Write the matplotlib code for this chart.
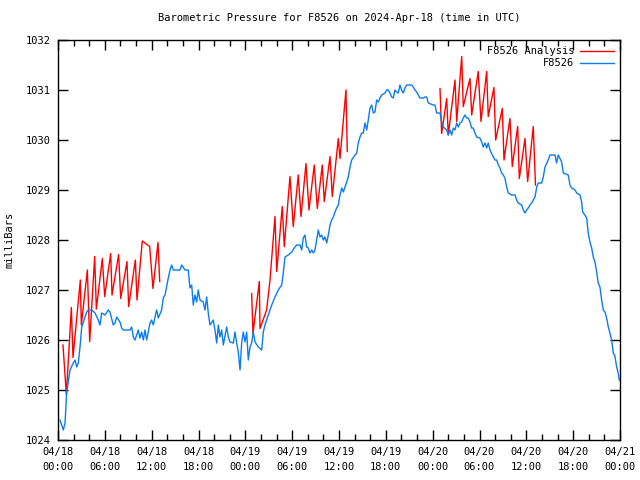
import matplotlib
matplotlib.use("Agg")
import matplotlib.pyplot as plt
from matplotlib.ticker import MultipleLocator

# hours since 2024-04-18 00:00 UTC
blue_hr = [0.26, 0.68, 0.90, 1.11, 1.54, 1.96, 2.18, 2.40, 2.60, 2.82, 3.04, 3.46, 3.68, 3.88,
           4.32, 4.74, 5.16, 5.38, 5.60, 6.02, 6.44, 6.66, 7.08, 7.30, 7.52, 7.94, 8.16, 8.37,
           9.22, 9.44, 9.65, 9.86, 10.08, 10.29, 10.50, 10.72, 10.93, 11.15, 11.36, 11.79, 12.00,
           12.21, 12.43, 12.64, 12.85, 13.28, 13.49, 13.71, 14.13, 14.35, 14.56, 14.77, 15.63,
           15.85, 16.27, 16.69, 16.91, 17.13, 17.33, 17.55, 17.77, 17.97, 18.19, 18.61, 18.83,
           19.05, 19.25, 19.47, 19.89, 20.11, 20.33, 20.54, 20.75, 20.97, 21.18, 21.61, 21.82,
           22.03, 22.46, 22.67, 22.89, 23.10, 23.32, 23.53, 23.74, 23.96, 24.17, 24.38, 24.60,
           24.81, 25.02, 25.24, 25.66, 26.10, 26.30, 26.52, 26.94, 27.38, 27.80, 28.22, 28.66,
           28.86, 29.08, 29.50, 29.94, 30.36, 30.58, 31.00, 31.22, 31.42, 31.64, 31.86, 32.07,
           32.28, 32.50, 32.71, 32.92, 33.14, 33.35, 33.56, 33.78, 33.99, 34.20, 34.42, 34.63,
           34.85, 35.06, 35.27, 35.49, 35.70, 35.91, 36.13, 36.35, 36.55, 36.77, 36.98, 37.19,
           37.41, 37.62, 38.05, 38.27, 38.47, 38.69, 38.91, 39.11, 39.33, 39.55, 39.75, 39.97,
           40.19, 40.39, 40.61, 40.83, 41.03, 41.25, 41.47, 41.89, 42.11, 42.31, 42.53, 42.75,
           42.95, 43.17, 43.39, 43.59, 43.81, 44.02, 44.24, 44.45, 44.67, 45.31, 45.52, 45.73,
           45.95, 46.16, 46.37, 46.80, 47.02, 47.23, 47.44, 48.08, 48.30, 48.51, 48.94, 49.15,
           49.36, 49.80, 50.00, 50.22, 50.44, 50.64, 50.86, 51.08, 51.28, 51.50, 51.72, 51.92,
           52.14, 52.36, 52.56, 52.78, 53.00, 53.20, 53.42, 53.64, 54.06, 54.28, 54.48, 54.70,
           54.92, 55.12, 55.34, 55.77, 55.98, 56.20, 56.41, 56.62, 56.84, 57.05, 57.26, 57.48,
           57.69, 58.12, 58.55, 58.76, 58.97, 59.40, 59.61, 59.83, 60.04, 60.25, 60.47, 60.68,
           60.89, 61.11, 61.33, 61.53, 61.97, 62.17, 62.39, 62.81, 63.03, 63.67, 63.88, 64.09,
           64.53, 64.73, 65.37, 65.59, 65.81, 66.23, 66.45, 66.87, 67.09, 67.21, 67.51, 67.73,
           67.93, 68.15, 68.37, 68.58, 68.79, 69.01, 69.21, 69.43, 69.65, 69.86, 70.07, 70.29,
           70.50, 70.71, 70.93, 71.14, 71.35, 71.57, 71.77, 71.90]
blue_p = [1024.40, 1024.20, 1024.34, 1024.94, 1025.40, 1025.54, 1025.60, 1025.46, 1025.54, 1025.86,
          1026.26, 1026.46, 1026.56, 1026.60, 1026.60, 1026.54, 1026.40, 1026.30, 1026.54, 1026.50,
          1026.60, 1026.56, 1026.30, 1026.34, 1026.46, 1026.36, 1026.24, 1026.20, 1026.20, 1026.26,
          1026.06, 1026.00, 1026.10, 1026.20, 1026.04, 1026.16, 1026.00, 1026.20, 1026.00, 1026.34,
          1026.40, 1026.30, 1026.46, 1026.60, 1026.44, 1026.60, 1026.84, 1026.90, 1027.24, 1027.40,
          1027.50, 1027.40, 1027.40, 1027.50, 1027.40, 1027.40, 1027.04, 1027.10, 1026.70, 1026.90,
          1026.76, 1027.00, 1026.80, 1026.76, 1026.60, 1026.86, 1026.54, 1026.30, 1026.40, 1026.20,
          1025.94, 1026.30, 1026.06, 1026.20, 1025.90, 1026.26, 1026.06, 1025.96, 1025.94, 1026.16,
          1025.94, 1025.76, 1025.40, 1025.94, 1026.16, 1025.96, 1026.16, 1025.60, 1025.86, 1025.94,
          1026.16, 1025.96, 1025.86, 1025.80, 1026.16, 1026.30, 1026.50, 1026.70, 1026.86, 1027.00,
          1027.10, 1027.34, 1027.66, 1027.70, 1027.76, 1027.86, 1027.90, 1027.90, 1027.80, 1028.04,
          1028.10, 1027.86, 1027.84, 1027.74, 1027.80, 1027.74, 1027.80, 1028.00, 1028.20, 1028.06,
          1028.10, 1028.00, 1028.06, 1027.94, 1028.10, 1028.30, 1028.40, 1028.46, 1028.56, 1028.64,
          1028.70, 1028.90, 1029.04, 1028.96, 1029.06, 1029.16, 1029.26, 1029.46, 1029.60, 1029.70,
          1029.74, 1029.94, 1030.06, 1030.14, 1030.14, 1030.34, 1030.20, 1030.40, 1030.64, 1030.70,
          1030.54, 1030.56, 1030.80, 1030.76, 1030.84, 1030.90, 1030.94, 1031.00, 1031.00, 1030.94,
          1030.86, 1030.84, 1031.00, 1030.96, 1030.94, 1031.10, 1031.00, 1030.94, 1031.04, 1031.10,
          1031.10, 1031.06, 1031.00, 1030.96, 1030.90, 1030.84, 1030.84, 1030.86, 1030.86, 1030.74,
          1030.70, 1030.70, 1030.54, 1030.54, 1030.36, 1030.26, 1030.20, 1030.10, 1030.20, 1030.10,
          1030.24, 1030.20, 1030.34, 1030.26, 1030.34, 1030.36, 1030.44, 1030.50, 1030.44, 1030.44,
          1030.36, 1030.24, 1030.24, 1030.14, 1030.06, 1030.04, 1029.96, 1029.86, 1029.94, 1029.84,
          1029.94, 1029.80, 1029.66, 1029.60, 1029.60, 1029.50, 1029.44, 1029.34, 1029.30, 1029.24,
          1029.06, 1028.94, 1028.90, 1028.90, 1028.80, 1028.74, 1028.70, 1028.60, 1028.54, 1028.60,
          1028.64, 1028.70, 1028.74, 1028.80, 1028.86, 1029.06, 1029.14, 1029.14, 1029.26, 1029.46,
          1029.60, 1029.70, 1029.70, 1029.54, 1029.70, 1029.56, 1029.34, 1029.30, 1029.10, 1029.04,
          1029.00, 1028.94, 1028.90, 1028.76, 1028.56, 1028.50, 1028.44, 1028.14, 1027.96, 1027.84,
          1027.66, 1027.56, 1027.36, 1027.14, 1027.06, 1026.80, 1026.60, 1026.56, 1026.44, 1026.26,
          1026.14, 1026.00, 1025.74, 1025.68, 1025.46, 1025.34, 1025.20]

# analysis runs, three separate pieces (peaks and troughs in order)
red1_hr = [0.64, 1.07, 1.71, 1.92, 2.86, 2.99, 3.76, 4.06, 4.70, 4.91, 5.68, 5.98, 6.75,
           6.92, 7.77, 8.03, 8.84, 9.05, 9.91, 10.12, 10.80, 11.74, 12.17, 12.81, 13.03]
red1_p = [1025.90, 1024.90, 1026.65, 1025.65, 1027.20, 1026.30, 1027.40, 1025.97, 1027.67,
          1026.62, 1027.63, 1026.87, 1027.73, 1026.90, 1027.71, 1026.83, 1027.57, 1026.67,
          1027.60, 1026.80, 1027.98, 1027.87, 1027.03, 1027.95, 1027.17]
red2_hr = [24.81, 24.98, 25.79, 25.88, 26.73, 27.16, 27.80, 28.02, 28.73, 28.99, 29.72, 30.14,
           30.78, 31.13, 31.77, 32.15, 32.83, 33.22, 33.86, 34.11, 34.85, 35.14, 35.91, 36.13,
           36.89, 37.06]
red2_p = [1026.93, 1026.13, 1027.17, 1026.23, 1026.60, 1027.20, 1028.47, 1027.37, 1028.67,
          1027.87, 1029.27, 1028.27, 1029.30, 1028.47, 1029.53, 1028.60, 1029.50, 1028.63,
          1029.50, 1028.77, 1029.67, 1028.87, 1030.03, 1029.63, 1031.00, 1029.77]
red3_hr = [48.94, 49.15, 49.80, 50.00, 50.86, 51.08, 51.72, 51.92, 52.78, 53.00, 53.84, 54.19,
           54.92, 55.12, 55.85, 56.07, 56.92, 57.14, 57.90, 58.20, 58.89, 59.10, 59.83, 60.17,
           60.89, 61.17]
red3_p = [1031.03, 1030.13, 1030.83, 1030.10, 1031.20, 1030.37, 1031.67, 1030.67, 1031.23,
          1030.50, 1031.37, 1030.37, 1031.37, 1030.47, 1031.05, 1030.00, 1030.63, 1029.60,
          1030.43, 1029.47, 1030.27, 1029.23, 1030.03, 1029.17, 1030.27, 1029.10]

tick_hr = [0, 6, 12, 18, 24, 30, 36, 42, 48, 54, 60, 66, 72]
tick_lbl = ["04/18\n00:00", "04/18\n06:00", "04/18\n12:00", "04/18\n18:00",
            "04/19\n00:00", "04/19\n06:00", "04/19\n12:00", "04/19\n18:00",
            "04/20\n00:00", "04/20\n06:00", "04/20\n12:00", "04/20\n18:00",
            "04/21\n00:00"]

plt.rcParams['font.family'] = ['DejaVu Sans Mono']
plt.rcParams['font.size'] = 7.5

fig = plt.figure(figsize=(6.4, 4.8), dpi=100)
ax = fig.add_axes([58 / 640, 40 / 480, 562 / 640, 400 / 480])

red = '#ff0000'
blue = '#0a7cf0'
ax.plot(red1_hr, red1_p, color=red, lw=1.0, label='F8526 Analysis')
ax.plot(red2_hr, red2_p, color=red, lw=1.0)
ax.plot(red3_hr, red3_p, color=red, lw=1.0)
ax.plot(blue_hr, blue_p, color=blue, lw=1.0, label='F8526')

ax.set_xlim(0, 72)
ax.set_ylim(1024, 1032)
ax.set_xticks(tick_hr)
ax.set_xticklabels(tick_lbl, linespacing=1.6)
ax.xaxis.set_minor_locator(MultipleLocator(2))
ax.set_yticks(range(1024, 1033))
ax.tick_params(which='major', direction='in', length=7, width=1, top=True, right=True, pad=5)
ax.tick_params(which='minor', direction='in', length=4, width=1, top=True, right=False, left=False)
for s in ax.spines.values():
    s.set_linewidth(1.0)

ax.set_ylabel('milliBars', labelpad=8)
ax.set_title('Barometric Pressure for F8526 on 2024-Apr-18 (time in UTC)', pad=14, fontsize=7.5)

ax.legend(loc='upper right', frameon=False, markerfirst=False, handlelength=3.2,
          borderaxespad=0.2, labelspacing=0.2, handletextpad=0.6)

fig.savefig('out.png', dpi=100)
